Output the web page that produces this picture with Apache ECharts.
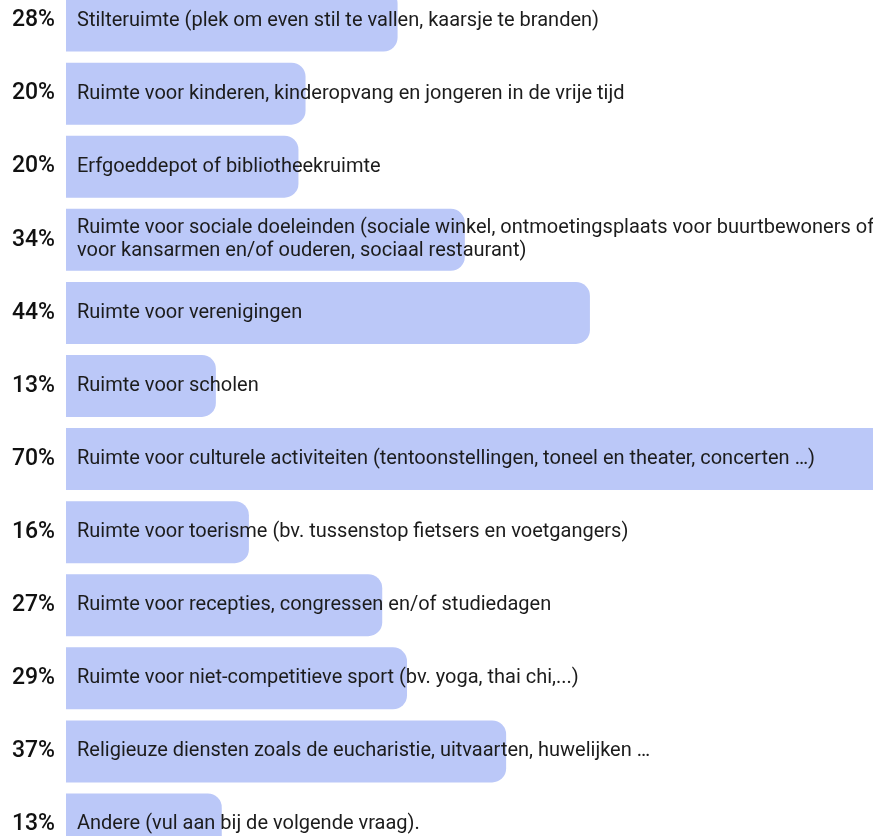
<!DOCTYPE html>
<html>
<head>
<meta charset="utf-8">
<script src="https://cdn.jsdelivr.net/npm/echarts@6/dist/echarts.min.js"></script>
<style>
html,body{margin:0;padding:0;background:#fff;}
#chart{width:873px;height:836px;}
</style>
</head>
<body>
<div id="chart"></div>
<script>
const categories = [
  "Stilteruimte (plek om even stil te vallen, kaarsje te branden)",
  "Ruimte voor kinderen, kinderopvang en jongeren in de vrije tijd",
  "Erfgoeddepot of bibliotheekruimte",
  "Ruimte voor sociale doeleinden (sociale winkel, ontmoetingsplaats voor buurtbewoners of\nvoor kansarmen en/of ouderen, sociaal restaurant)",
  "Ruimte voor verenigingen",
  "Ruimte voor scholen",
  "Ruimte voor culturele activiteiten (tentoonstellingen, toneel en theater, concerten …)",
  "Ruimte voor toerisme (bv. tussenstop fietsers en voetgangers)",
  "Ruimte voor recepties, congressen en/of studiedagen",
  "Ruimte voor niet-competitieve sport (bv. yoga, thai chi,...)",
  "Religieuze diensten zoals de eucharistie, uitvaarten, huwelijken …",
  "Andere (vul aan bij de volgende vraag)."
];
const values = [28.1, 20.3, 19.7, 33.8, 44.4, 12.7, 70.0, 15.5, 26.8, 28.9, 37.3, 13.2];
const percentLabels = ["28%", "20%", "20%", "34%", "44%", "13%", "70%", "16%", "27%", "29%", "37%", "13%"];

const chart = echarts.init(document.getElementById('chart'), null, {renderer: 'canvas'});
chart.setOption({
  animation: false,
  grid: {left: 66, right: -19, top: -16, height: 877, containLabel: false, outerBoundsMode: 'none'},
  xAxis: {
    type: 'value', min: 0, max: 70, show: false
  },
  yAxis: {
    type: 'category', inverse: true, data: categories,
    axisLine: {show: false}, axisTick: {show: false}, splitLine: {show: false},
    axisLabel: {
      margin: 11,
      fontFamily: 'Roboto', fontSize: 23, fontWeight: 500, color: '#111',
      formatter: function (v, i) { return percentLabels[i]; }
    }
  },
  series: [{
    type: 'bar',
    data: values,
    barWidth: 62,
    itemStyle: {color: '#bbc8f8', borderRadius: [0, 14, 14, 0]},
    label: {
      show: true, position: 'insideLeft', distance: 11,
      fontFamily: 'Roboto', fontSize: 20, color: '#1c1c1c', lineHeight: 23,
      formatter: function (p) { return categories[p.dataIndex]; }
    }
  }]
});
</script>
</body>
</html>
